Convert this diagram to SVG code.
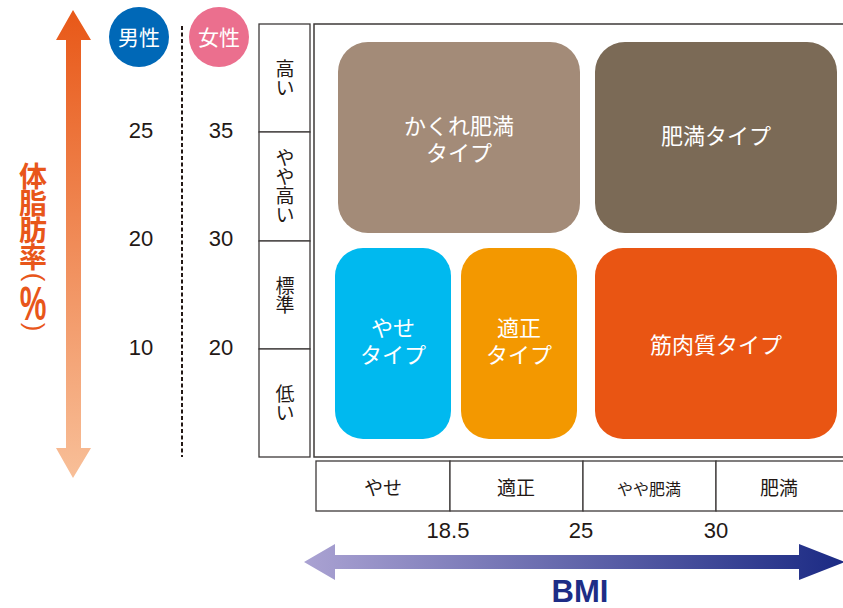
<svg xmlns="http://www.w3.org/2000/svg" width="843" height="608" viewBox="0 0 843 608">
<defs>
<linearGradient id="gv" x1="0" y1="0" x2="0" y2="1"><stop offset="0" stop-color="#e85818"/><stop offset="1" stop-color="#f8bf98"/></linearGradient>
<linearGradient id="gh" x1="0" y1="0" x2="1" y2="0"><stop offset="0" stop-color="#aaa2d2"/><stop offset="1" stop-color="#1b2a84"/></linearGradient>
<style>
.num{font-family:"Liberation Sans","Noto Sans CJK JP",sans-serif;font-size:22px;fill:#231815;text-anchor:middle}
.cell{fill:#fff;stroke:#3e3a39;stroke-width:1.3}
.lab{font-family:"Noto Sans CJK JP",sans-serif;font-size:19px;fill:#231815;text-anchor:middle}
.vl{font-family:"Noto Sans CJK JP",sans-serif;font-size:19px;fill:#231815;writing-mode:vertical-rl;text-anchor:middle}
.bx{font-family:"Noto Sans CJK JP",sans-serif;font-size:22px;fill:#fff;text-anchor:middle}
.ax{font-family:"Noto Sans CJK JP",sans-serif;font-weight:bold;fill:#e8561a}
.par{font-family:"Liberation Sans",sans-serif;font-size:26px;fill:#e8561a;text-anchor:middle}
</style>
</defs>

<g id="axis-y">
<polygon points="73,10 91,40 81,40 81,448 91,448 73,478 56,448 66,448 66,40 56,40" fill="url(#gv)"/>
<text class="ax" x="33" y="162" style="font-size:28px;writing-mode:vertical-rl;letter-spacing:-1px">体脂肪率</text>
<text class="par" x="0" y="6.8" transform="translate(33,277) rotate(90)">(</text>
<text class="ax" x="0" y="0" transform="translate(33,320) scale(1,1.6)" style="font-family:'Liberation Sans',sans-serif;font-size:30px;text-anchor:middle">%</text>
<text class="par" x="0" y="6.8" transform="translate(33,327) rotate(90)">)</text>
</g>

<g id="legend-male">
<circle cx="139" cy="37" r="30" fill="#0068b7"/>
<text class="bx" x="139" y="45" style="font-size:21px">男性</text>
</g>
<g id="legend-female">
<circle cx="219" cy="37" r="30" fill="#eb6f8e"/>
<text class="bx" x="219" y="45" style="font-size:21px">女性</text>
</g>
<line x1="182" y1="26" x2="182" y2="457" stroke="#231815" stroke-width="2" stroke-dasharray="4,2.5"/>

<g id="scale-y">
<text class="num" x="141" y="138">25</text>
<text class="num" x="221" y="138">35</text>
<text class="num" x="141" y="246">20</text>
<text class="num" x="221" y="246">30</text>
<text class="num" x="141" y="355">10</text>
<text class="num" x="221" y="355">20</text>
</g>

<g id="fat-levels">
<rect class="cell" x="259" y="24" width="51" height="108"/>
<rect class="cell" x="259" y="132" width="51" height="109"/>
<rect class="cell" x="259" y="241" width="51" height="108"/>
<rect class="cell" x="259" y="349" width="51" height="108"/>
<text class="vl" x="285" y="78">高い</text>
<text class="vl" x="285" y="186">やや高い</text>
<text class="vl" x="285" y="295">標準</text>
<text class="vl" x="285" y="403">低い</text>
</g>

<rect x="314" y="24" width="540" height="433" fill="#fff" stroke="#3e3a39" stroke-width="1.5"/>

<g id="hidden-obesity">
<rect x="338" y="42" width="242" height="191" rx="30" fill="#a38b78"/>
<text class="bx"><tspan x="459" y="134">かくれ肥満</tspan><tspan x="459" y="161">タイプ</tspan></text>
</g>
<g id="obesity">
<rect x="595" y="42" width="242" height="191" rx="30" fill="#7b6a56"/>
<text class="bx" x="716" y="144">肥満タイプ</text>
</g>
<g id="thin">
<rect x="335" y="248" width="116" height="191" rx="28" fill="#00b9ef"/>
<text class="bx"><tspan x="393" y="336">やせ</tspan><tspan x="393" y="363">タイプ</tspan></text>
</g>
<g id="normal">
<rect x="461" y="248" width="116" height="191" rx="28" fill="#f39800"/>
<text class="bx"><tspan x="519" y="336">適正</tspan><tspan x="519" y="363">タイプ</tspan></text>
</g>
<g id="muscular">
<rect x="595" y="248" width="242" height="191" rx="28" fill="#e95513"/>
<text class="bx" x="716" y="353">筋肉質タイプ</text>
</g>

<g id="bmi-levels">
<rect class="cell" x="316" y="461" width="134" height="50"/>
<rect class="cell" x="450" y="461" width="133" height="50"/>
<rect class="cell" x="583" y="461" width="133" height="50"/>
<rect class="cell" x="716" y="461" width="140" height="50"/>
<text class="lab" x="383" y="495">やせ</text>
<text class="lab" x="516" y="495">適正</text>
<text class="lab" x="649" y="495" style="font-size:16px">やや肥満</text>
<text class="lab" x="779" y="495">肥満</text>
</g>

<g id="scale-x">
<text class="num" x="448" y="538">18.5</text>
<text class="num" x="581" y="538">25</text>
<text class="num" x="716" y="538">30</text>
</g>

<g id="axis-x">
<polygon points="304,562 335,544 335,555 799,555 799,544 845,562 799,580 799,569 335,569 335,580" fill="url(#gh)"/>
<text x="580" y="602" text-anchor="middle" style="font-family:'Liberation Sans',sans-serif;font-weight:bold;font-size:31px;fill:#1d2d86">BMI</text>
</g>
</svg>
